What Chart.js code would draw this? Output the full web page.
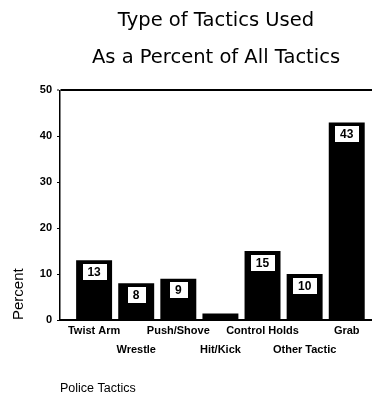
<!DOCTYPE html>
<html>
<head>
<meta charset="utf-8">
<title>Type of Tactics Used</title>
<script src="https://cdn.jsdelivr.net/npm/chart.js@4.4.1/dist/chart.umd.min.js"></script>
<style>
  html, body { margin: 0; padding: 0; background: #fff; }
  canvas { display: block; }
</style>
</head>
<body>
<canvas id="tactics-chart" width="372" height="400"></canvas>
<script>
const tactics = ['Twist Arm', 'Wrestle', 'Push/Shove', 'Hit/Kick', 'Control Holds', 'Other Tactic', 'Grab'];
const percents = [13, 8, 9, 1.4, 15, 10, 43];
const yTicks = [0, 10, 20, 30, 40, 50];
const titleLines = ['Type of Tactics Used', 'As a Percent of All Tactics'];

const FONT = "'Liberation Sans', Arial, Helvetica, sans-serif";

// white boxed value just under the top of each bar
const valueBoxes = {
  id: 'valueBoxes',
  afterDatasetsDraw(chart) {
    const ctx = chart.ctx;
    const bars = chart.getDatasetMeta(0).data;
    ctx.save();
    ctx.font = 'bold 12px ' + FONT;
    ctx.textAlign = 'center';
    ctx.textBaseline = 'middle';
    bars.forEach((bar, i) => {
      const v = percents[i];
      if (v < 2) return; // Hit/Kick is too short to hold a box
      const text = String(v);
      const w = Math.round(ctx.measureText(text).width + 12);
      const h = 17;
      const x0 = Math.round(bar.x - w / 2) + 0.5;
      const y0 = Math.round(bar.y + 11 - h / 2) + 0.5;
      ctx.fillStyle = '#fff';
      ctx.fillRect(x0, y0, w, h);
      ctx.strokeStyle = '#000';
      ctx.lineWidth = 1;
      ctx.strokeRect(x0, y0, w, h);
      ctx.fillStyle = '#000';
      ctx.fillText(text, bar.x, y0 + h / 2 + 0.5);
    });
    ctx.restore();
  }
};

new Chart(document.getElementById('tactics-chart'), {
  type: 'bar',
  data: {
    datasets: [{
      data: percents.map((v, i) => ({ x: i, y: v })),
      backgroundColor: '#000',
      borderWidth: 0,
      barPercentage: 0.854,
      categoryPercentage: 1
    }]
  },
  options: {
    responsive: false,
    animation: false,
    layout: { padding: 0 },
    plugins: {
      legend: { display: false },
      tooltip: { enabled: false },
      title: {
        display: true,
        text: titleLines,
        fullSize: false,
        color: '#000',
        font: { family: "'DejaVu Sans', sans-serif", size: 19.5, weight: 'normal', lineHeight: 1.88 },
        padding: { top: 3, bottom: 14 }
      }
    },
    scales: {
      x: {
        type: 'linear',
        min: -0.81,
        max: 6.6,
        offset: false,
        afterBuildTicks: (scale) => {
          scale.ticks = tactics.map((_, i) => ({ value: i }));
        },
        afterFit: (scale) => { scale.height = 80; },
        grid: { display: false, drawTicks: false, offset: false },
        border: { display: true, color: '#000', width: 2 },
        ticks: {
          autoSkip: false,
          maxRotation: 0,
          padding: 1,
          color: '#000',
          font: { family: FONT, size: 11, weight: 'bold', lineHeight: 1.73 },
          // alternate the names over two rows
          callback: (value) => {
            const i = Math.round(value);
            return i % 2 === 0 ? [tactics[i], ''] : ['', tactics[i]];
          }
        },
        title: {
          display: true,
          text: 'Police Tactics',
          align: 'start',
          color: '#000',
          font: { family: FONT, size: 12.5 },
          padding: { top: 0, bottom: 4 }
        }
      },
      y: {
        min: 0,
        max: 50,
        afterBuildTicks: (scale) => {
          scale.ticks = yTicks.map((v) => ({ value: v }));
        },
        afterFit: (scale) => { scale.width = 60; },
        grid: {
          color: (ctx) => (ctx.tick && ctx.tick.value === 50 ? '#000' : 'rgba(0,0,0,0)'),
          lineWidth: (ctx) => (ctx.tick && ctx.tick.value === 50 ? 2 : 1),
          drawTicks: true,
          tickLength: 3,
          tickColor: '#000',
          tickWidth: 1
        },
        border: { display: true, color: '#000', width: 1.5 },
        ticks: {
          padding: 5,
          color: '#000',
          font: { family: FONT, size: 11, weight: 'bold' }
        },
        title: {
          display: true,
          text: 'Percent',
          align: 'start',
          color: '#000',
          font: { family: FONT, size: 15 },
          padding: { top: 10, bottom: 0 }
        }
      }
    }
  },
  plugins: [valueBoxes]
});
</script>
</body>
</html>
